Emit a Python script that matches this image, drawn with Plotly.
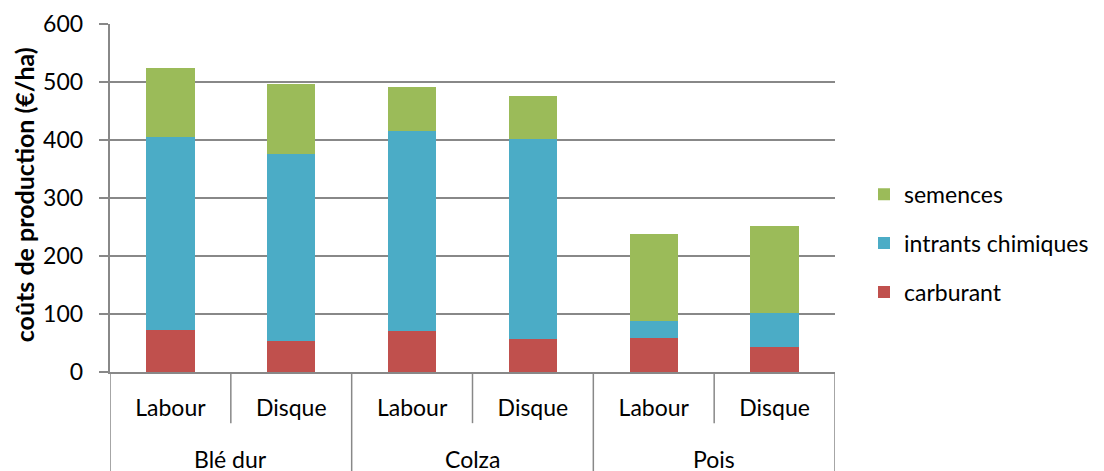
import plotly.graph_objects as go

cultures = ["Blé dur", "Blé dur", "Colza", "Colza", "Pois", "Pois"]
travail = ["Labour", "Disque", "Labour", "Disque", "Labour", "Disque"]

carburant = [73, 54, 71, 57, 58, 43]
intrants_chimiques = [332, 322, 344, 345, 30, 58]
semences = [120, 120, 76, 74, 150, 151]

FONT = "Lato, 'Open Sans', sans-serif"
GRID = "#888888"

positions = list(range(len(travail)))

fig = go.Figure()
for rank, (name, values, color) in enumerate([
    ("carburant", carburant, "#C0504D"),
    ("intrants chimiques", intrants_chimiques, "#4BACC6"),
    ("semences", semences, "#9BBB59"),
]):
    fig.add_trace(go.Bar(
        name=name,
        legendgroup=name,
        legendrank=3 - rank,
        x=positions,
        y=values,
        marker=dict(color=color, line=dict(width=0)),
    ))

# second row of category labels (groups) and the divider lines of the axis
groups = []
for i, c in enumerate(cultures):
    if not groups or groups[-1][0] != c:
        groups.append([c, i, i])
    else:
        groups[-1][2] = i

for c, first, last in groups:
    fig.add_annotation(
        x=(first + last) / 2, xref="x",
        y=-0.25, yref="paper",
        text=c, showarrow=False,
        font=dict(size=23), yanchor="middle",
    )
    fig.add_shape(type="line", xref="x", yref="paper",
                  x0=first - 0.5, x1=first - 0.5, y0=0, y1=-0.3,
                  line=dict(color=GRID, width=1.5))
    for i in range(first, last):
        fig.add_shape(type="line", xref="x", yref="paper",
                      x0=i + 0.5, x1=i + 0.5, y0=0, y1=-0.147,
                      line=dict(color=GRID, width=1.5))
fig.add_shape(type="line", xref="x", yref="paper",
              x0=groups[-1][2] + 0.5, x1=groups[-1][2] + 0.5, y0=0, y1=-0.3,
              line=dict(color=GRID, width=1.5))

# y axis title as an annotation so it stays put when tick labels move
fig.add_annotation(
    x=-0.119, xref="paper", y=0.51, yref="paper",
    text="<b>coûts de production (€/ha)</b>", textangle=-90,
    showarrow=False, font=dict(size=25),
    xanchor="center", yanchor="middle",
)

# the page has an 8px body margin, so margins are shifted by that amount
fig.update_layout(
    barmode="stack",
    bargap=0.6,
    width=1104, height=471,
    margin=dict(l=102, r=277, t=16, b=107),
    plot_bgcolor="white",
    paper_bgcolor="white",
    font=dict(family=FONT, size=23, color="#000000"),
    legend=dict(
        x=1.04, y=0.37, xanchor="left", yanchor="middle",
        traceorder="grouped",
        font=dict(size=23),
        itemwidth=30,
        tracegroupgap=16,
    ),
)
fig.update_yaxes(
    range=[0, 600], dtick=100,
    showgrid=True, gridcolor=GRID, gridwidth=1.5,
    showline=True, linecolor=GRID, linewidth=1.5,
    ticks="outside", ticklen=9, tickcolor=GRID, tickwidth=1.5,
    tickfont=dict(size=23), ticksuffix="\u2002",
    zeroline=False,
    automargin=False,
)
fig.update_xaxes(
    range=[-0.5, len(travail) - 0.5],
    tickvals=positions, ticktext=travail,
    showline=True, linecolor=GRID, linewidth=1.5,
    ticks="", ticklabelstandoff=15,
    showgrid=False, zeroline=False,
    tickfont=dict(size=23),
    automargin=False,
)

fig.write_html("out.html")
